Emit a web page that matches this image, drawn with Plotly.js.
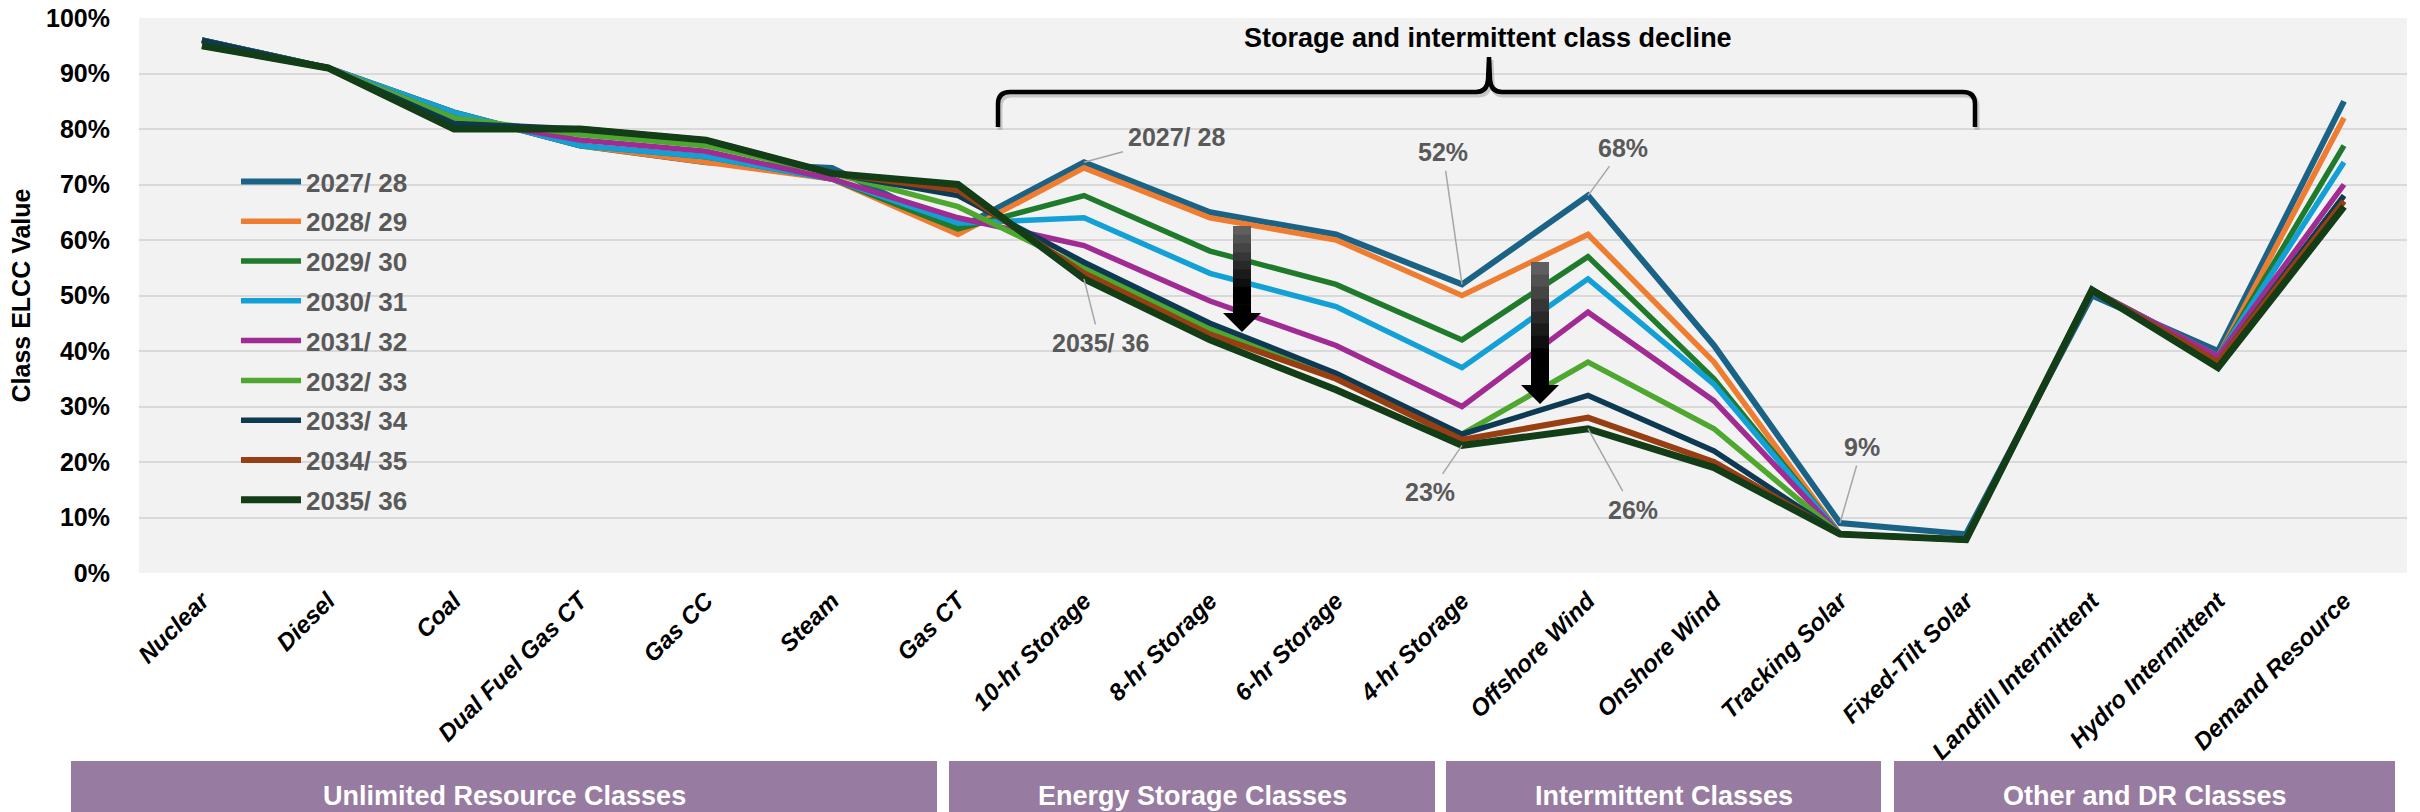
<!DOCTYPE html>
<html><head><meta charset="utf-8">
<script src="https://cdn.plot.ly/plotly-3.0.1.min.js"></script>
<style>html,body{margin:0;padding:0;background:#fff}#chart{width:2420px;height:812px}</style>
</head><body><div id="chart"></div>
<script>
const categories = ['Nuclear','Diesel','Coal','Dual Fuel Gas CT','Gas CC','Steam','Gas CT','10-hr Storage','8-hr Storage','6-hr Storage','4-hr Storage','Offshore Wind','Onshore Wind','Tracking Solar','Fixed-Tilt Solar','Landfill Intermittent','Hydro Intermittent','Demand Resource'];
const seasons = ['2027/ 28','2028/ 29','2029/ 30','2030/ 31','2031/ 32','2032/ 33','2033/ 34','2034/ 35','2035/ 36'];
const elcc2027 = [96,91,83,77,74,73,62,74,65,61,52,68,41,9,7,50,40,85];
const elcc2028 = [96,91,83,77,74,71,61,73,64,60,50,61,38,7,6,51,39,82];
const elcc2029 = [96,91,83,77,75,71,62,68,58,52,42,57,35,7,6,51,39,77];
const elcc2030 = [96,91,83,77,75,71,63,64,54,48,37,53,34,7,6,51,39,74];
const elcc2031 = [96,91,82,78,76,71,64,59,49,41,30,47,31,7,6,51,39,70];
const elcc2032 = [96,91,82,79,77,72,66,55,44,35,25,38,26,7,6,51,38,68];
const elcc2033 = [96,91,81,80,78,72,68,56,45,36,25,32,22,7,6,51,38,68];
const elcc2034 = [95,91,80,80,78,72,69,54,43,35,24,28,20,7,6,51,38,67];
const elcc2035 = [95,91,80,80,78,72,70,53,42,33,23,26,19,7,6,51,37,66];
const groupNames = ['Unlimited Resource Classes','Energy Storage Classes','Intermittent Classes','Other and DR Classes'];
const bracketText = 'Storage and intermittent class decline';

const series = [elcc2027,elcc2028,elcc2029,elcc2030,elcc2031,elcc2032,elcc2033,elcc2034,elcc2035];
const colors = ['#1b6386','#ee7d31','#1f7a2c','#12a0d7','#a02b93','#4ea72e','#0d3a52','#973f12','#123d16'];
const widths = [6,5.5,5.5,5.5,5.5,5.5,5.5,6,7];
const FONT = 'Liberation Sans, Arial, sans-serif';

const traces = series.map((v,i)=>({
  type:'scatter', mode:'lines', x:categories, y:v, name:seasons[i], legendgroup:'g'+i,
  line:{color:colors[i], width:widths[i]}, hoverinfo:'skip'
}));

// plot geometry helpers (pixel -> paper)
const L=139, R=2407, T=18, B=573;
const X = px => (px-L)/(R-L);
const Y = py => (B-py)/(B-T);
const P = (px,py) => X(px).toFixed(5)+','+Y(py).toFixed(5);

const shapes = [];
// legend hole over gridlines
shapes.push({type:'rect', xref:'paper', yref:'paper', x0:X(153), x1:X(487), y0:Y(530), y1:Y(160), fillcolor:'#f2f2f2', line:{width:0}, layer:'between'});
// bracket shadow + bracket
const br = (dx,dy)=> 'M'+P(998+dx,127+dy)+' L'+P(998+dx,104+dy)+' Q'+P(998+dx,92+dy)+' '+P(1010+dx,92+dy)+
  ' L'+P(1476+dx,92+dy)+' Q'+P(1487+dx,92+dy)+' '+P(1488+dx,80+dy)+' L'+P(1489+dx,57+dy)+' L'+P(1490+dx,80+dy)+
  ' Q'+P(1491+dx,92+dy)+' '+P(1502+dx,92+dy)+' L'+P(1963+dx,92+dy)+' Q'+P(1975+dx,92+dy)+' '+P(1975+dx,104+dy)+' L'+P(1975+dx,127+dy);
shapes.push({type:'path', xref:'paper', yref:'paper', path:br(2,3), line:{color:'rgba(120,120,120,0.35)', width:5}});
shapes.push({type:'path', xref:'paper', yref:'paper', path:br(0,0), line:{color:'#000', width:4.5}});
// gradient arrows
function arrow(x0,x1,top,headTop,hx0,hx1,tip){
  const n=10;
  for(let k=0;k<n;k++){
    const a=top+(headTop-top)*k/n, b=top+(headTop-top)*(k+1)/n+0.6;
    const g=Math.round(95*Math.max(0,1-k/(n*0.7)));
    const c='rgb('+g+','+g+','+g+')';
    shapes.push({type:'rect', xref:'paper', yref:'paper', x0:X(x0), x1:X(x1), y0:Y(b), y1:Y(a), fillcolor:c, line:{width:0}});
  }
  shapes.push({type:'path', xref:'paper', yref:'paper', path:'M'+P(hx0,headTop)+' L'+P(hx1,headTop)+' L'+P((hx0+hx1)/2,tip)+' Z', fillcolor:'#000', line:{width:0}});
}
arrow(1233,1251,226,313,1223,1261,332);
arrow(1531,1549,262,385,1521,1559,404);
// group boxes
const boxes=[[71,937],[949,1435],[1446,1881],[1894,2395]];
boxes.forEach(b=>shapes.push({type:'rect', xref:'paper', yref:'paper', x0:X(b[0]), x1:X(b[1]), y0:Y(830), y1:Y(761), fillcolor:'#977ba1', line:{width:0}}));

const lblFont = {family:FONT, size:25, color:'#595959', weight:'bold'};
function callout(cat, val, text, ax, ay){
  return {x:categories[cat], y:val, xref:'x', yref:'y', text:text, showarrow:true, arrowhead:0, arrowwidth:1.5, arrowcolor:'#a6a6a6', ax:ax, ay:ay, font:lblFont, standoff:0, borderpad:4};
}
const annotations = [
  callout(7, elcc2027[7], seasons[0], 92, -25),
  callout(7, elcc2035[7], seasons[8], 16, 64),
  callout(10, elcc2027[10], elcc2027[10]+'%', -19, -132),
  callout(11, elcc2027[11], elcc2027[11]+'%', 35, -48),
  callout(10, elcc2035[10], elcc2035[10]+'%', -32, 47),
  callout(11, elcc2035[11], elcc2035[11]+'%', 45, 81),
  callout(13, elcc2027[13], elcc2027[13]+'%', 22, -76),
  {xref:'paper', yref:'paper', x:X(1488), y:Y(38), xanchor:'center', yanchor:'middle', text:bracketText, showarrow:false, font:{family:FONT, size:27, color:'#000', weight:'bold'}}
];
boxes.forEach((b,i)=>annotations.push({xref:'paper', yref:'paper', x:X((b[0]+b[1])/2), y:Y(796), xanchor:'center', yanchor:'middle', text:groupNames[i], showarrow:false, font:{family:FONT, size:27, color:'#fff', weight:'bold'}}));

const layout = {
  width:2420, height:812,
  paper_bgcolor:'#fff', plot_bgcolor:'#f2f2f2',
  margin:{l:L, r:2420-R, t:T, b:812-B, pad:0},
  xaxis:{type:'category', range:[-0.5,17.5], showgrid:false, zeroline:false, showline:false, ticks:'', tickangle:-45, ticklabelstandoff:8,
    tickfont:{family:FONT, size:24, color:'#000', weight:'bold', style:'italic'}, automargin:false},
  yaxis:{range:[0,100], dtick:10, ticksuffix:'%', showgrid:true, gridcolor:'#d9d9d9', gridwidth:2, zeroline:false, showline:false, ticks:'',
    ticklabelstandoff:28, tickfont:{family:FONT, size:25, color:'#000', weight:'bold'}, automargin:false,
    title:{text:'Class ELCC Value', font:{family:FONT, size:25, color:'#000', weight:'bold'}, standoff:8}},
  showlegend:true,
  legend:{x:X(236), xanchor:'left', y:Y(158), yanchor:'top', bgcolor:'rgba(0,0,0,0)', borderwidth:0,
    font:{family:FONT, size:26, color:'#595959', weight:'bold'}, itemwidth:60, tracegroupgap:3},
  shapes:shapes, annotations:annotations
};
Plotly.newPlot('chart', traces, layout, {staticPlot:true});
</script></body></html>
